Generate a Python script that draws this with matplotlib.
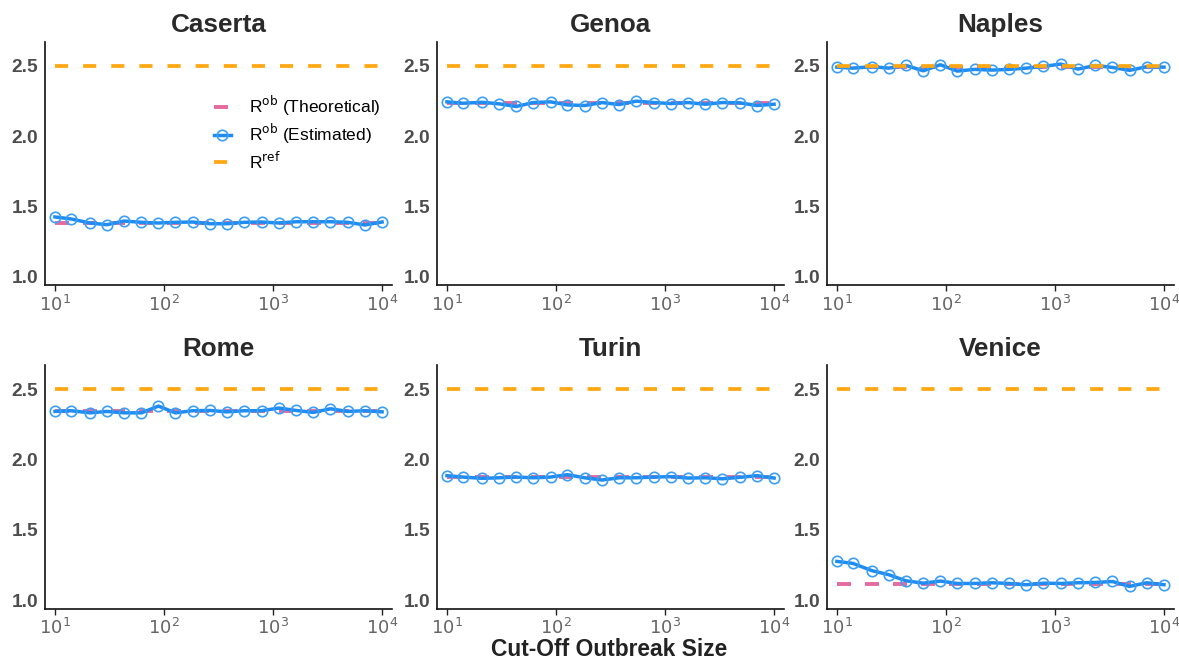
import matplotlib
matplotlib.use("Agg")
import matplotlib.pyplot as plt

plt.rcParams['font.family'] = ['Liberation Sans', 'DejaVu Sans']

# cut-off outbreak sizes (x positions of the estimates)
cutoffs = [10, 14, 21, 30, 43, 62, 89, 127, 183, 264, 379, 546, 785,
           1129, 1624, 2336, 3360, 4833, 6952, 10000]

cities = ["Caserta", "Genoa", "Naples", "Rome", "Turin", "Venice"]

# theoretical R^ob per city
r_theo = [1.38, 2.233, 2.49, 2.345, 1.876, 1.117]
r_ref = 2.5

# estimated R^ob per city
est_caserta = [1.424, 1.41, 1.381, 1.369, 1.395, 1.386, 1.381, 1.386, 1.388, 1.376,
               1.376, 1.386, 1.388, 1.381, 1.39, 1.39, 1.39, 1.386, 1.367, 1.388]
est_genoa = [2.243, 2.233, 2.24, 2.229, 2.21, 2.238, 2.243, 2.221, 2.217, 2.238,
             2.224, 2.248, 2.238, 2.231, 2.238, 2.226, 2.238, 2.236, 2.217, 2.226]
est_naples = [2.49, 2.483, 2.493, 2.483, 2.502, 2.464, 2.507, 2.462, 2.474, 2.469,
              2.474, 2.483, 2.495, 2.512, 2.476, 2.502, 2.488, 2.467, 2.493, 2.49]
est_rome = [2.343, 2.348, 2.333, 2.343, 2.333, 2.333, 2.381, 2.333, 2.348, 2.35,
            2.34, 2.348, 2.348, 2.367, 2.35, 2.336, 2.362, 2.343, 2.348, 2.34]
est_turin = [1.886, 1.876, 1.867, 1.871, 1.876, 1.871, 1.876, 1.893, 1.871, 1.855,
             1.871, 1.871, 1.876, 1.879, 1.869, 1.871, 1.864, 1.874, 1.886, 1.869]
est_venice = [1.276, 1.262, 1.21, 1.181, 1.138, 1.121, 1.136, 1.119, 1.119, 1.124,
              1.119, 1.11, 1.121, 1.119, 1.124, 1.126, 1.133, 1.098, 1.124, 1.11]
estimates = [est_caserta, est_genoa, est_naples, est_rome, est_turin, est_venice]

yticks = [1.0, 1.5, 2.0, 2.5]
xticks = [10, 100, 1000, 10000]
xticklabels = ["$10^{1}$", "$10^{2}$", "$10^{3}$", "$10^{4}$"]

PINK = "#E46A9F"
BLUE = "#1E8CF0"
ORANGE = "#FFA812"

fig = plt.figure(figsize=(11.79, 6.64), dpi=100)

lefts = [0.0382, 0.3707, 0.7014]
bottoms = [0.5708, 0.0834]
w, h = 0.2943, 0.3664

for i, city in enumerate(cities):
    ax = fig.add_axes([lefts[i % 3], bottoms[i // 3], w, h])
    ax.plot([cutoffs[0], cutoffs[-1]], [r_theo[i]] * 2, color=PINK, lw=2.8,
            ls=(0, (3.6, 3.6)), zorder=1, label=r"R$^{\mathrm{ob}}$ (Theoretical)")
    ax.plot(cutoffs, estimates[i], color=BLUE, lw=2.5, marker='o', ms=7.5,
            mfc='none', mec="#3C9EF5", mew=1.2, zorder=2,
            label=r"R$^{\mathrm{ob}}$ (Estimated)")
    ax.plot([cutoffs[0], cutoffs[-1]], [r_ref] * 2, color=ORANGE, lw=2.7,
            ls=(0, (3.5, 4.0)), zorder=3, label=r"R$^{\mathrm{ref}}$")
    ax.set_xscale('log')
    ax.set_xlim(10 ** 0.909, 10 ** 4.091)
    ax.set_ylim(0.94, 2.671)
    ax.set_yticks(yticks)
    ax.set_yticklabels([f"{t:.1f}" for t in yticks], fontweight='bold',
                       color="#4d4d4d", fontsize=13.8)
    ax.set_xticks(xticks)
    ax.set_xticklabels(xticklabels, color="#666666", fontsize=13)
    ax.xaxis.set_minor_locator(matplotlib.ticker.NullLocator())
    ax.tick_params(axis='y', length=0, pad=5)
    ax.tick_params(axis='x', length=4, width=1, pad=3, color="#222222")
    for s in ['top', 'right']:
        ax.spines[s].set_visible(False)
    for s in ['left', 'bottom']:
        ax.spines[s].set_linewidth(1.2)
        ax.spines[s].set_color("#111111")
    ax.set_title(city, fontsize=18.8, fontweight='bold', color="#2a2a2a", pad=7)
    if i == 0:
        ax.legend(loc='upper left', bbox_to_anchor=(0.461, 0.82), frameon=False,
                  fontsize=12.5, handlelength=1.0, handletextpad=1.03,
                  labelspacing=0.22, borderpad=0)

fig.text(0.517, 0.005, "Cut-Off Outbreak Size", ha='center', va='bottom',
         fontsize=16.4, fontweight='bold', color="#222222")

fig.savefig("out.png", dpi=100)
